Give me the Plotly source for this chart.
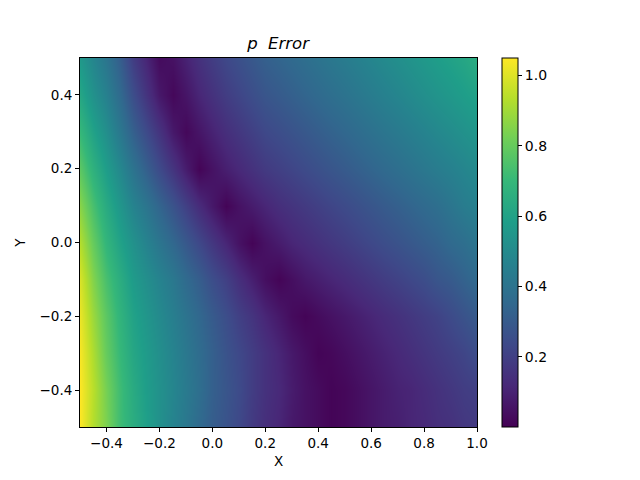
import plotly.graph_objects as go

# grid: x every 0.05, y every 0.1 (bottom row first)
x_vals = [-0.5, -0.45, -0.4, -0.35, -0.3, -0.25, -0.2, -0.15, -0.1, -0.05, 0.0,
          0.05, 0.1, 0.15, 0.2, 0.25, 0.3, 0.35, 0.4, 0.45, 0.5,
          0.55, 0.6, 0.65, 0.7, 0.75, 0.8, 0.85, 0.9, 0.95, 1.0]
y_vals = [-0.5, -0.4, -0.3, -0.2, -0.1, 0.0, 0.1, 0.2, 0.3, 0.4, 0.5]

row_m05 = [1.05, 0.93, 0.84, 0.72, 0.65, 0.59, 0.53, 0.47, 0.42, 0.36, 0.31, 0.27, 0.23, 0.18, 0.14, 0.11,
           0.07, 0.05, 0.03, 0.01, 0.02, 0.04, 0.06, 0.08, 0.09, 0.11, 0.12, 0.14, 0.15, 0.17, 0.18]
row_m04 = [1.05, 0.94, 0.83, 0.72, 0.64, 0.58, 0.53, 0.48, 0.43, 0.38, 0.32, 0.28, 0.24, 0.19, 0.15, 0.12,
           0.08, 0.05, 0.03, 0.01, 0.02, 0.04, 0.06, 0.08, 0.10, 0.11, 0.13, 0.15, 0.17, 0.19, 0.20]
row_m03 = [1.04, 0.92, 0.80, 0.70, 0.62, 0.57, 0.52, 0.47, 0.42, 0.37, 0.32, 0.27, 0.23, 0.19, 0.15, 0.11,
           0.07, 0.04, 0.01, 0.02, 0.04, 0.06, 0.08, 0.10, 0.12, 0.14, 0.16, 0.18, 0.20, 0.22, 0.25]
row_m02 = [1.02, 0.89, 0.78, 0.68, 0.60, 0.55, 0.50, 0.45, 0.40, 0.35, 0.30, 0.25, 0.20, 0.16, 0.11, 0.07,
           0.03, 0.01, 0.03, 0.05, 0.07, 0.09, 0.11, 0.13, 0.15, 0.17, 0.19, 0.21, 0.24, 0.27, 0.30]
row_m01 = [0.99, 0.85, 0.74, 0.65, 0.57, 0.52, 0.47, 0.42, 0.36, 0.31, 0.25, 0.20, 0.14, 0.09, 0.04, 0.01,
           0.04, 0.07, 0.09, 0.11, 0.13, 0.15, 0.17, 0.19, 0.21, 0.23, 0.25, 0.28, 0.30, 0.33, 0.36]
row_000 = [0.93, 0.80, 0.69, 0.60, 0.53, 0.47, 0.41, 0.35, 0.29, 0.23, 0.17, 0.11, 0.05, 0.01, 0.05, 0.08,
           0.11, 0.13, 0.15, 0.17, 0.19, 0.21, 0.23, 0.25, 0.27, 0.29, 0.31, 0.33, 0.36, 0.38, 0.41]
row_p01 = [0.86, 0.74, 0.64, 0.55, 0.47, 0.41, 0.34, 0.27, 0.20, 0.13, 0.07, 0.01, 0.05, 0.08, 0.11, 0.14,
           0.16, 0.18, 0.20, 0.22, 0.24, 0.26, 0.28, 0.30, 0.32, 0.34, 0.36, 0.38, 0.41, 0.44, 0.46]
row_p02 = [0.78, 0.67, 0.58, 0.49, 0.40, 0.32, 0.24, 0.16, 0.08, 0.01, 0.05, 0.09, 0.12, 0.15, 0.18, 0.20,
           0.22, 0.24, 0.26, 0.28, 0.30, 0.32, 0.34, 0.36, 0.38, 0.40, 0.42, 0.44, 0.46, 0.48, 0.50]
row_p03 = [0.70, 0.60, 0.52, 0.42, 0.32, 0.24, 0.16, 0.07, 0.02, 0.06, 0.10, 0.14, 0.17, 0.20, 0.23, 0.25,
           0.27, 0.29, 0.31, 0.33, 0.35, 0.37, 0.39, 0.41, 0.43, 0.45, 0.47, 0.49, 0.51, 0.53, 0.55]
row_p04 = [0.62, 0.53, 0.46, 0.36, 0.25, 0.16, 0.07, 0.02, 0.06, 0.11, 0.15, 0.19, 0.22, 0.25, 0.28, 0.30,
           0.32, 0.34, 0.36, 0.38, 0.40, 0.42, 0.44, 0.46, 0.48, 0.50, 0.52, 0.54, 0.56, 0.58, 0.60]
row_p05 = [0.56, 0.48, 0.41, 0.31, 0.19, 0.11, 0.03, 0.05, 0.10, 0.15, 0.19, 0.23, 0.26, 0.29, 0.32, 0.34,
           0.36, 0.38, 0.40, 0.42, 0.44, 0.46, 0.48, 0.50, 0.52, 0.54, 0.56, 0.58, 0.60, 0.62, 0.65]

error_rows = [row_m05, row_m04, row_m03, row_m02, row_m01, row_000,
              row_p01, row_p02, row_p03, row_p04, row_p05]

x_ticks = [-0.4, -0.2, 0.0, 0.2, 0.4, 0.6, 0.8, 1.0]
y_ticks = [-0.4, -0.2, 0.0, 0.2, 0.4]
cbar_ticks = [0.2, 0.4, 0.6, 0.8, 1.0]

FONT = "DejaVu Sans"

fig = go.Figure(go.Heatmap(
    x=x_vals, y=y_vals, z=error_rows,
    colorscale="Viridis", zmin=0.0, zmax=1.05, zsmooth="best",
    colorbar=dict(
        x=1.038, xanchor="left", xref="paper",
        y=0, yanchor="bottom", len=1, lenmode="fraction", ypad=0,
        thickness=16, outlinecolor="black", outlinewidth=1,
        ticks="outside", ticklen=4, tickcolor="black",
        tickvals=cbar_ticks, tickformat=".1f",
        tickfont=dict(family=FONT, size=14, color="black"),
    ),
))

axis_style = dict(
    showgrid=False, zeroline=False, showline=True, linecolor="black", linewidth=1,
    mirror=True, ticks="outside", ticklen=4, tickcolor="black", tickformat=".1f",
    tickfont=dict(family=FONT, size=13.5, color="black"),
)

fig.update_xaxes(range=[-0.5, 1.0], tickvals=x_ticks,
                 title=dict(text="X", font=dict(family=FONT, size=13.5, color="black"), standoff=6),
                 **axis_style)
fig.update_yaxes(range=[-0.5, 0.5], tickvals=y_ticks,
                 title=dict(text="Y", font=dict(family=FONT, size=13.5, color="black"), standoff=10),
                 **axis_style)

fig.update_layout(
    width=640, height=480,
    margin=dict(l=72, r=171, t=50, b=61),
    paper_bgcolor="white", plot_bgcolor="white",
    title=dict(text="<i>p\u00a0 Error</i>", x=0.422, xanchor="center", y=0.927, yanchor="middle",
               font=dict(family=FONT, size=16.5, color="black")),
)

fig.write_html("out.html")
